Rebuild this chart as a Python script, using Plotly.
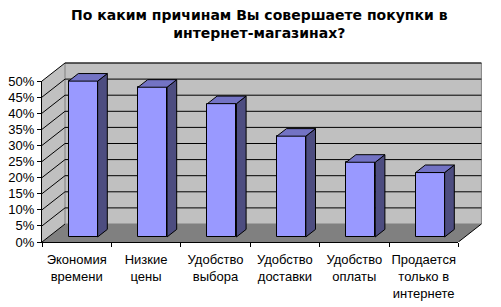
import plotly.graph_objects as go

categories = ["Экономия<br>времени", "Низкие<br>цены", "Удобство<br>выбора",
              "Удобство<br>доставки", "Удобство<br>оплаты", "Продается<br>только в<br>интернете"]
values = [48.4, 46.5, 41.4, 31.3, 23.2, 20.0]
y_ticks = [0, 5, 10, 15, 20, 25, 30, 35, 40, 45, 50]
y_tick_text = [f"{v}%" for v in y_ticks]
title_text = "<b>По каким причинам Вы совершаете покупки в<br>интернет-магазинах?</b>"

# layout geometry (pixels)
FW, FH = 501, 307
L, R, T, B = 42, 485, 60, 242
W = 69.4          # px per category
H = 161 / 50      # px per percent
DX, DY = 23, 18   # full depth offset in px
n = len(categories)

xr = [-0.5, -0.5 + (R - L) / W]
yr = [0, (B - T) / H]
ddx, ddy = DX / W, DY / H
d0, db = 0.28, 0.42
half = 29 / 2 / W
ymax = y_ticks[-1]

FRONT = "#9999FF"
SIDE = "#4D4D80"
TOP = "#7373C4"
WALL = "#C0C0C0"
FLOOR = "#808080"

fig = go.Figure()
shapes = []
# left side wall
shapes.append(dict(type="path", xref="x", yref="y", layer="below",
                   path=f"M {-0.5},{0} L {-0.5+ddx},{ddy} L {-0.5+ddx},{ymax+ddy} L {-0.5},{ymax} Z",
                   fillcolor=WALL, line=dict(width=0)))
# back wall
shapes.append(dict(type="rect", xref="x", yref="y", layer="below",
                   x0=-0.5 + ddx, x1=n - 0.5 + ddx, y0=ddy, y1=ymax + ddy,
                   fillcolor=WALL, line=dict(color="#808080", width=1)))
# floor
shapes.append(dict(type="path", xref="x", yref="y", layer="below",
                   path=f"M {-0.5},{0} L {n-0.5},{0} L {n-0.5+ddx},{ddy} L {-0.5+ddx},{ddy} Z",
                   fillcolor=FLOOR, line=dict(width=0)))
# floor right edge
shapes.append(dict(type="line", xref="x", yref="y", layer="below",
                   x0=n - 0.5, y0=0, x1=n - 0.5 + ddx, y1=ddy, line=dict(color="black", width=1)))
# gridlines
for v in y_ticks:
    shapes.append(dict(type="line", xref="x", yref="y", layer="below",
                       x0=-0.5, y0=v, x1=-0.5 + ddx, y1=v + ddy, line=dict(color="black", width=1)))
    if 0 < v:
        shapes.append(dict(type="line", xref="x", yref="y", layer="below",
                           x0=-0.5 + ddx, y0=v + ddy, x1=n - 0.5 + ddx, y1=v + ddy,
                           line=dict(color="black", width=1)))

# bars: front faces
xs = [i + d0 * ddx for i in range(n)]
base = d0 * ddy
fig.add_trace(go.Bar(x=xs, y=values, base=base, width=2 * half,
                     marker=dict(color=FRONT, line=dict(color="black", width=1)),
                     hoverinfo="skip", showlegend=False))
# side and top faces
sx, sy, tx, ty = [], [], [], []
for xc, v in zip(xs, values):
    xl, xrt = xc - half, xc + half
    ox, oy = db * ddx, db * ddy
    sx += [xrt, xrt + ox, xrt + ox, xrt, xrt, None]
    sy += [base, base + oy, base + v + oy, base + v, base, None]
    tx += [xl, xrt, xrt + ox, xl + ox, xl, None]
    ty += [base + v, base + v, base + v + oy, base + v + oy, base + v, None]
fig.add_trace(go.Scatter(x=sx, y=sy, fill="toself", fillcolor=SIDE, mode="lines",
                         line=dict(color="black", width=1), hoverinfo="skip", showlegend=False))
fig.add_trace(go.Scatter(x=tx, y=ty, fill="toself", fillcolor=TOP, mode="lines",
                         line=dict(color="black", width=1), hoverinfo="skip", showlegend=False))
# dummy trace for tick axes
fig.add_trace(go.Scatter(x=[0], y=[0], xaxis="x2", yaxis="y2", mode="markers",
                         marker=dict(opacity=0), hoverinfo="skip", showlegend=False))

font = "Liberation Sans, Arial, sans-serif"
fig.update_layout(
    width=FW, height=FH,
    margin=dict(l=L, r=FW - R, t=T, b=FH - B, pad=0, autoexpand=False),
    paper_bgcolor="white", plot_bgcolor="rgba(0,0,0,0)",
    shapes=shapes,
    annotations=[dict(text=title_text, xref="paper", yref="paper", x=(259 - L) / (R - L),
                      xanchor="center", y=1, yanchor="bottom", yshift=17, showarrow=False,
                      align="center",
                      font=dict(family="DejaVu Sans, sans-serif", size=14, color="black"))],
    font=dict(family=font, size=13, color="black"),
    xaxis=dict(range=xr, tickvals=list(range(n)), ticktext=categories, showgrid=False,
               zeroline=False, showline=False, ticks="", tickfont=dict(size=13),
               ticklabelstandoff=8, automargin=False, fixedrange=True),
    yaxis=dict(range=yr, visible=False, automargin=False, fixedrange=True),
    xaxis2=dict(range=[-0.5, n - 0.5], domain=[0, n * W / (R - L)], anchor="y2",
                tickvals=[i - 0.5 for i in range(n + 1)], ticks="outside", ticklen=4,
                tickcolor="black", showticklabels=False, showline=True, linecolor="black",
                showgrid=False, zeroline=False, automargin=False, fixedrange=True),
    yaxis2=dict(range=[0, ymax], domain=[0, ymax * H / (B - T)], anchor="x2",
                tickvals=y_ticks, ticktext=y_tick_text, ticks="outside", ticklen=4,
                tickcolor="black", showline=True, linecolor="black", showgrid=False,
                zeroline=False, tickfont=dict(size=13), automargin=False, fixedrange=True),
    bargap=0,
)
fig.write_html("out.html")
